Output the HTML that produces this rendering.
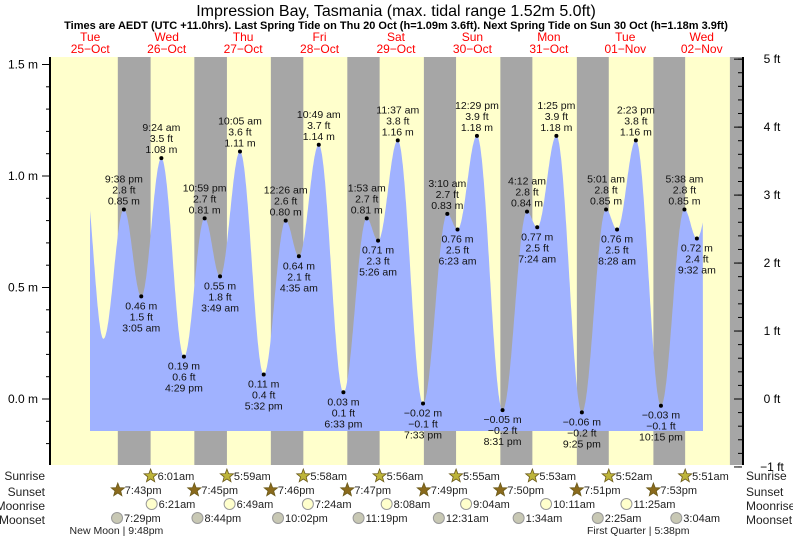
<!DOCTYPE html>
<html><head><meta charset="utf-8">
<style>
body{margin:0;background:#fff;}
svg{display:block;font-family:"Liberation Sans",sans-serif;}
</style></head>
<body>
<svg id="chart" width="793" height="539" viewBox="0 0 793 539" xmlns="http://www.w3.org/2000/svg">
<text x="396" y="16" text-anchor="middle" font-size="16">Impression Bay, Tasmania (max. tidal range 1.52m 5.0ft)</text>
<text x="396" y="29" text-anchor="middle" font-size="11" font-weight="bold">Times are AEDT (UTC +11.0hrs). Last Spring Tide on Thu 20 Oct (h=1.09m 3.6ft). Next Spring Tide on Sun 30 Oct (h=1.18m 3.9ft)</text>
<g id="bg"></g><g id="tide"></g><g id="axes"></g><g id="labels"></g><g id="astro"></g>
</svg>
<script>
const dayNames=["Tue","Wed","Thu","Fri","Sat","Sun","Mon","Tue","Wed"];
const dayDates=["25\u2212Oct","26\u2212Oct","27\u2212Oct","28\u2212Oct","29\u2212Oct","30\u2212Oct","31\u2212Oct","01\u2212Nov","02\u2212Nov"];
const tideHours=[9.0,15.2,21.63,27.08,33.4,40.48,46.98,51.82,58.08,65.53,72.43,76.58,82.82,90.55,97.88,101.43,107.62,115.55,123.17,126.38,132.48,140.52,148.2,151.4,157.42,165.42,173.02,176.47,182.38,190.25,197.63,201.53,208.0];
const tideHeights=[1.02,0.27,0.85,0.46,1.08,0.19,0.81,0.55,1.11,0.11,0.80,0.64,1.14,0.03,0.81,0.71,1.16,-0.02,0.83,0.76,1.18,-0.05,0.84,0.77,1.18,-0.06,0.85,0.76,1.16,-0.03,0.85,0.72,1.1];
const tideTimes=["","","9:38 pm","3:05 am","9:24 am","4:29 pm","10:59 pm","3:49 am","10:05 am","5:32 pm","12:26 am","4:35 am","10:49 am","6:33 pm","1:53 am","5:26 am","11:37 am","7:33 pm","3:10 am","6:23 am","12:29 pm","8:31 pm","4:12 am","7:24 am","1:25 pm","9:25 pm","5:01 am","8:28 am","2:23 pm","10:15 pm","5:38 am","9:32 am",""];
const sunriseHours=[30.02,53.98,77.97,101.93,125.92,149.88,173.87,197.85];
const sunriseLabels=["6:01am","5:59am","5:58am","5:56am","5:55am","5:53am","5:52am","5:51am"];
const sunsetHours=[19.72,43.75,67.77,91.78,115.82,139.83,163.85,187.88,211.9];
const sunsetLabels=["7:43pm","7:45pm","7:46pm","7:47pm","7:49pm","7:50pm","7:51pm","7:53pm",""];
const moonriseHours=[30.35,54.82,79.4,104.13,129.07,154.18,179.42];
const moonriseLabels=["6:21am","6:49am","7:24am","8:08am","9:04am","10:11am","11:25am"];
const moonsetHours=[19.48,44.73,70.03,95.32,120.52,145.57,170.42,195.07];
const moonsetLabels=["7:29pm","8:44pm","10:02pm","11:19pm","12:31am","1:34am","2:25am","3:04am"];
const phaseHours=[21.8,185.63];
const phaseLabels=["New Moon | 9:48pm","First Quarter | 5:38pm"];
const yTicksM=[-0.0,0.5,1.0,1.5];
const yTicksFt=[-1,0,1,2,3,4,5];

const NS="http://www.w3.org/2000/svg";
const X0=50,X1=742,Y0=57,Y1=465;
const xs=t=>55+3.185*t;
const ym=m=>399-223*m;
const yft=f=>ym(f*0.3048);
function mk(par,tag,at,txt){const e=document.createElementNS(NS,tag);for(const k in at)e.setAttribute(k,at[k]);if(txt!==undefined)e.textContent=txt;document.getElementById(par).appendChild(e);return e;}
const fmt=(v,d)=>{const s=Math.abs(v).toFixed(d);return (v<0?"\u2212":"")+s;};

let e=mk("bg","rect",{x:X0,y:Y0,width:X1-X0,height:Y1-Y0,fill:"#ffffcc"});


for(let i=0;i<sunsetHours.length;i++){
  const a=xs(sunsetHours[i]);const b=i<sunriseHours.length?xs(sunriseHours[i]):X1;
  e=mk("bg","rect",{x:a,y:Y0,width:Math.min(b,X1)-a,height:Y1-Y0,fill:"#a6a6a6"});
  
  
}
for(let i=0;i<dayNames.length;i++){
  const x=xs(24*i+12)-3;
  e=mk("bg","text",{x:x,y:41,"text-anchor":"middle","font-size":"12",fill:"#ff0000"},dayNames[i]);
  
  
  e=mk("bg","text",{x:x,y:53,"text-anchor":"middle","font-size":"12",fill:"#ff0000"},dayDates[i]);
  
  
}
function h(t){for(let i=0;i<tideHours.length-1;i++){if(t>=tideHours[i]&&t<=tideHours[i+1]){const f=(t-tideHours[i])/(tideHours[i+1]-tideHours[i]);const c=(1-Math.cos(Math.PI*f))/2;return tideHeights[i]+(tideHeights[i+1]-tideHeights[i])*c;}}return tideHeights[tideHeights.length-1];}
const tS=(90-55)/3.185,tE=(703-55)/3.185,yb=431;
let d="M"+xs(tS)+","+yb;
for(let t=tS;t<=tE;t+=0.1)d+=" L"+xs(t).toFixed(1)+","+ym(h(t)).toFixed(1);
d+=" L"+xs(tE)+","+yb+" Z";
e=mk("tide","path",{d:d,fill:"#a0b2ff"});


for(let i=0;i<tideHours.length;i++){
  if(!tideTimes[i])continue;
  const x=xs(tideHours[i]),y=ym(tideHeights[i]);
  const isHigh=(tideHeights[i]>tideHeights[i-1]);
  e=mk("labels","circle",{cx:x,cy:y,r:2,fill:"#000"});
  
  
  const m=fmt(tideHeights[i],2)+" m",ft=fmt(tideHeights[i]*3.2808,1)+" ft";
  const lines=isHigh?[tideTimes[i],ft,m]:[m,ft,tideTimes[i]];
  for(let j=0;j<3;j++){
    const ty=isHigh?y-5-(2-j)*11:y+13+j*11;
    e=mk("labels","text",{x:x,y:ty,"text-anchor":"middle","font-size":"10.5",fill:"#111"},lines[j]);
    
    
  }
}
e=mk("axes","line",{x1:X0,y1:Y0,x2:X0,y2:Y1,stroke:"#000","stroke-width":"2"});


e=mk("axes","line",{x1:X1+1,y1:Y0,x2:X1+1,y2:Y1,stroke:"#000","stroke-width":"2"});


for(let v=-0.3;v<=1.55;v+=0.1){const y=ym(v);if(y<Y0||y>Y1)continue;mk("axes","line",{x1:X0-4,y1:y,x2:X0,y2:y,stroke:"#000"});}
for(const v of yTicksM){const y=ym(v);
  mk("axes","line",{x1:X0-8,y1:y,x2:X0,y2:y,stroke:"#000"});
  e=mk("axes","text",{x:X0-12,y:y+4,"text-anchor":"end","font-size":"12"},v.toFixed(1)+" m");
  
  }
for(let v=-1;v<=5.01;v+=0.2){const y=yft(v);mk("axes","line",{x1:X1-4,y1:y,x2:X1,y2:y,stroke:"#000"});}
for(const v of yTicksFt){const y=yft(v);
  mk("axes","line",{x1:X1-8,y1:y,x2:X1,y2:y,stroke:"#000"});
  e=mk("axes","text",{x:X1+30,y:y+4,"text-anchor":"middle","font-size":"12"},(v<0?"\u2212":"")+Math.abs(v)+" ft");
  
  }
const rows=[["Sunrise",476],["Sunset",492],["Moonrise",506],["Moonset",520]];
for(const r of rows){
  e=mk("astro","text",{x:45,y:r[1]+4,"text-anchor":"end","font-size":"12",fill:"#222"},r[0]);
  
  
  e=mk("astro","text",{x:746,y:r[1]+4,"font-size":"12",fill:"#222"},r[0]);
  
  
}
function star(x,y,fill){let p="";for(let k=0;k<10;k++){const r=k%2?3:7,a=-Math.PI/2+k*Math.PI/5;p+=(k?"L":"M")+(x+r*Math.cos(a)).toFixed(1)+","+(y+r*Math.sin(a)).toFixed(1);}return mk("astro","path",{d:p+"Z",fill:fill,stroke:"#6b5a1a","stroke-width":"0.8"});}
function row(hours,labels,y,kind){
  for(let i=0;i<hours.length;i++){const x=xs(hours[i]);if(x>X1||!labels[i])continue;
    if(kind==="sr")e=star(x,y,"#bdb43a");
    else if(kind==="ss")e=star(x,y,"#8a6a1c");
    else e=mk("astro","circle",{cx:x,cy:y,r:5.5,fill:kind==="mr"?"#ffffcc":"#c8c8b4",stroke:"#999"});
    
    
    e=mk("astro","text",{x:x+7,y:y+4,"font-size":"11",fill:"#222"},labels[i]);
    
    
  }
}
row(sunriseHours,sunriseLabels,476,"sr");
row(sunsetHours,sunsetLabels,490,"ss");
row(moonriseHours,moonriseLabels,504,"mr");
row(moonsetHours,moonsetLabels,518,"ms");
for(let i=0;i<phaseHours.length;i++){
  e=mk("astro","text",{x:xs(phaseHours[i])-8,y:534,"text-anchor":"middle","font-size":"10.5",fill:"#222"},phaseLabels[i]);
  
  
}
</script>
</body></html>
